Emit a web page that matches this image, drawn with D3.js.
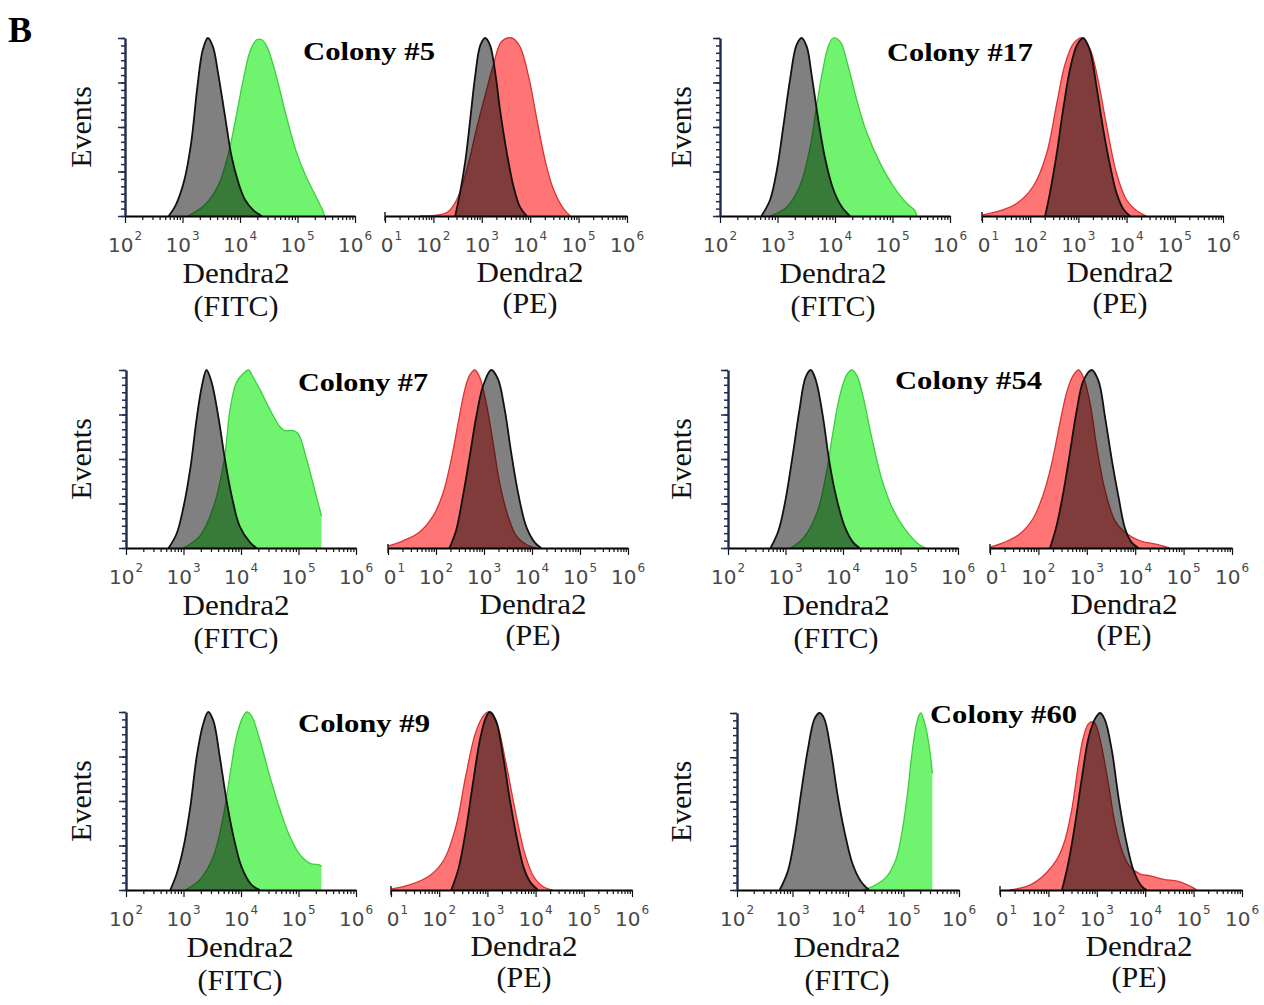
<!DOCTYPE html>
<html><head><meta charset="utf-8">
<script src="https://cdn.jsdelivr.net/npm/d3@7/dist/d3.min.js"></script>
<style>body{margin:0;background:#fff}svg{display:block}</style>
</head><body>
<svg id="chart" width="1264" height="1005"></svg>
<script>
// ---------- DATA (x = log10 fluorescence, y = % of max events) ----------
const colonies = ["Colony #5", "Colony #17", "Colony #7", "Colony #54", "Colony #9", "Colony #60"];
const fitcDecades = [2, 3, 4, 5, 6];
const peDecades = [1, 2, 3, 4, 5, 6];
const xTitle = "Dendra2";
const fitcChannel = "(FITC)";
const peChannel = "(PE)";
const yTitle = "Events";
const panelLetter = "B";

const c5FitcGray  = [[2.76,0],[2.88,6],[3.03,20],[3.15,41],[3.26,73],[3.35,93],[3.44,100],[3.53,95],[3.62,80],[3.74,56],[3.85,34],[3.97,19],[4.09,9],[4.24,3],[4.38,0]];
const c5FitcGreen = [[3.09,0],[3.38,6],[3.62,17],[3.79,34],[3.91,52],[4.06,77],[4.18,93],[4.29,99],[4.38,99],[4.47,95],[4.62,80],[4.79,58],[4.97,37],[5.15,22],[5.32,11],[5.44,3],[5.47,0]];
const c5PeGray    = [[2.45,0],[2.55,13],[2.66,31],[2.76,54],[2.86,78],[2.97,96],[3.07,100],[3.17,96],[3.28,80],[3.38,59],[3.52,35],[3.66,16],[3.79,5],[3.93,0]];
const c5PeRed     = [[1.72,0],[2.28,2],[2.48,9],[2.69,26],[2.9,50],[3.1,71],[3.24,85],[3.41,98],[3.62,100],[3.79,95],[3.97,78],[4.14,54],[4.31,31],[4.48,15],[4.69,4],[4.83,0]];

const c17FitcGray  = [[2.72,0],[2.87,9],[2.99,26],[3.1,50],[3.22,77],[3.33,96],[3.42,100],[3.51,95],[3.59,80],[3.71,54],[3.83,32],[3.97,15],[4.12,5],[4.26,0]];
const c17FitcGreen = [[2.87,0],[3.16,5],[3.39,17],[3.57,39],[3.68,62],[3.8,84],[3.88,95],[3.97,100],[4.09,98],[4.23,84],[4.38,65],[4.55,47],[4.78,30],[5.01,17],[5.25,7],[5.39,3],[5.42,0]];
const c17PeGray    = [[2.31,0],[2.41,13],[2.55,35],[2.69,61],[2.83,83],[2.97,96],[3.1,100],[3.24,93],[3.38,72],[3.52,48],[3.66,28],[3.79,13],[3.93,4],[4.07,0]];
const c17PeRed     = [[1.0,0.5],[1.38,3],[1.72,7],[2.07,17],[2.34,35],[2.55,63],[2.72,85],[2.9,97],[3.07,100],[3.24,94],[3.41,76],[3.59,50],[3.79,24],[4.0,9],[4.21,3],[4.41,0]];

const c7FitcGray  = [[2.74,0],[2.88,8],[3.0,23],[3.12,45],[3.23,73],[3.32,91],[3.4,100],[3.49,93],[3.61,73],[3.72,50],[3.84,29],[3.98,12],[4.16,3],[4.27,0]];
const c7FitcGreen = [[3.0,0],[3.29,7],[3.52,23],[3.71,50],[3.81,78],[3.92,93],[4.04,98],[4.13,100],[4.21,96],[4.33,89],[4.5,78],[4.68,68],[4.76,66],[4.91,66],[5.0,64],[5.14,50],[5.31,29],[5.4,18]];
const c7PeGray    = [[2.28,0],[2.42,10],[2.56,29],[2.7,51],[2.84,74],[2.98,91],[3.15,100],[3.29,95],[3.43,78],[3.57,53],[3.71,31],[3.88,12],[4.06,3],[4.19,0]];
const c7PeRed     = [[1.0,1],[1.31,4],[1.66,9],[1.94,18],[2.15,31],[2.32,50],[2.46,70],[2.6,89],[2.7,97],[2.81,100],[2.91,96],[3.05,81],[3.19,59],[3.33,36],[3.5,18],[3.67,7],[3.88,2],[4.09,0]];

const c54FitcGray  = [[2.74,0],[2.88,10],[3.0,27],[3.12,51],[3.24,77],[3.35,96],[3.44,100],[3.53,94],[3.65,74],[3.76,49],[3.88,29],[4.03,12],[4.18,3],[4.29,0]];
const c54FitcGreen = [[3.09,0],[3.32,6],[3.56,21],[3.71,42],[3.82,64],[3.94,85],[4.06,97],[4.15,100],[4.24,97],[4.35,85],[4.5,62],[4.68,38],[4.88,21],[5.09,10],[5.32,2],[5.44,0]];
const c54PeGray    = [[2.24,0],[2.38,13],[2.52,32],[2.66,55],[2.79,77],[2.93,94],[3.1,100],[3.24,94],[3.38,73],[3.52,49],[3.66,28],[3.79,11],[3.93,3],[4.07,0]];
const c54PeRed     = [[1.0,0.5],[1.28,3],[1.62,8],[1.9,17],[2.1,30],[2.28,48],[2.45,71],[2.59,88],[2.72,97],[2.83,100],[2.93,96],[3.07,81],[3.21,56],[3.38,32],[3.59,15],[3.83,8],[4.1,4],[4.45,2],[4.72,0]];

const c9FitcGray  = [[2.77,0],[2.88,9],[3.0,24],[3.12,47],[3.23,75],[3.34,93],[3.43,100],[3.52,95],[3.63,75],[3.75,50],[3.87,30],[4.01,13],[4.18,3],[4.33,0]];
const c9FitcGreen = [[3.03,0],[3.29,6],[3.52,19],[3.69,41],[3.81,65],[3.92,86],[4.03,97],[4.1,100],[4.18,98],[4.33,84],[4.5,64],[4.68,45],[4.85,30],[5.02,20],[5.2,15],[5.37,14],[5.4,13]];
const c9PeGray    = [[2.25,0],[2.4,12],[2.55,33],[2.7,60],[2.85,85],[2.97,97],[3.05,100],[3.18,95],[3.32,76],[3.47,50],[3.62,28],[3.76,12],[3.9,4],[4.05,0]];
const c9PeRed     = [[1.0,0.5],[1.4,3],[1.8,8],[2.1,17],[2.35,36],[2.55,64],[2.75,88],[2.92,98],[3.03,100],[3.2,93],[3.38,72],[3.56,47],[3.76,22],[3.95,8],[4.15,2],[4.35,0]];

const c60FitcGray  = [[2.77,0],[2.92,11],[3.04,30],[3.16,56],[3.28,80],[3.4,97],[3.49,100],[3.57,97],[3.69,79],[3.81,54],[3.93,34],[4.08,15],[4.23,5],[4.38,0]];
const c60FitcGreen = [[4.26,0],[4.44,2],[4.68,7],[4.86,17],[4.98,34],[5.07,54],[5.16,79],[5.25,96],[5.31,100],[5.4,92],[5.49,75],[5.52,66]];
const c60PeGray    = [[2.28,0],[2.41,15],[2.55,37],[2.69,63],[2.83,86],[2.97,97],[3.07,100],[3.17,96],[3.31,79],[3.45,52],[3.59,30],[3.76,11],[3.93,2],[4.03,0]];
const c60PeRed     = [[1.2,0],[1.55,2],[1.76,5],[1.97,10],[2.17,17],[2.34,28],[2.48,45],[2.62,71],[2.72,86],[2.83,94],[2.93,95],[3.0,92],[3.1,81],[3.24,60],[3.38,37],[3.55,20],[3.69,13],[3.9,9],[4.1,8],[4.38,6],[4.66,5],[4.86,3],[5.07,0]];

// ---------- LAYOUT ----------
const panels = [
  {name: colonies[0], fx0:125, fx1:355, px0:385, px1:627, top:38,  base:216, fLab:236, pLab:530, evX:91,  col:[303,60,132],
   fg:c5FitcGray, fc:c5FitcGreen, pg:c5PeGray, pc:c5PeRed},
  {name: colonies[1], fx0:720, fx1:950, px0:982, px1:1223, top:38, base:216, fLab:833, pLab:1120, evX:691, col:[887,61,146],
   fg:c17FitcGray, fc:c17FitcGreen, pg:c17PeGray, pc:c17PeRed},
  {name: colonies[2], fx0:126, fx1:356, px0:388, px1:628, top:370, base:548, fLab:236, pLab:533, evX:91, col:[298,391,130],
   fg:c7FitcGray, fc:c7FitcGreen, pg:c7PeGray, pc:c7PeRed},
  {name: colonies[3], fx0:728, fx1:958, px0:990, px1:1232, top:370, base:548, fLab:836, pLab:1124, evX:691, col:[895,389,147],
   fg:c54FitcGray, fc:c54FitcGreen, pg:c54PeGray, pc:c54PeRed},
  {name: colonies[4], fx0:126, fx1:356, px0:391, px1:632, top:712, base:890, fLab:240, pLab:524, evX:91, col:[298,732,132],
   fg:c9FitcGray, fc:c9FitcGreen, pg:c9PeGray, pc:c9PeRed},
  {name: colonies[5], fx0:737, fx1:959, px0:1000, px1:1242, top:713, base:890, fLab:847, pLab:1139, evX:691, col:[930,723,147],
   fg:c60FitcGray, fc:c60FitcGreen, pg:c60PeGray, pc:c60PeRed}
];

const SERIF = "'Liberation Serif','Times New Roman',serif";
const SANS = "'DejaVu Sans',Verdana,sans-serif";
const GREEN_FILL = "#70f470", GREEN_LINE = "#3ccf3c";
const RED_FILL = "#ff7575", RED_LINE = "#d83434";
const GRAY_FILL = "#808080";
const TICK_FS = 20, SUP_FS = 12;

const svg = d3.select("#chart");
const defs = svg.append("defs");

svg.append("text").attr("x", 8).attr("y", 42)
  .attr("font-family", SERIF).attr("font-weight", "bold").attr("font-size", 36)
  .text(panelLetter);

function drawHist(g, x, y, base, colorData, colorFill, colorLine, grayData) {
  const curve = d3.curveCatmullRom.alpha(0.5);
  const area = d3.area().x(d => x(Math.pow(10, d[0]))).y0(base).y1(d => y(d[1])).curve(curve);
  const line = d3.line().x(d => x(Math.pow(10, d[0]))).y(d => y(d[1])).curve(curve);
  g.append("path").attr("d", area(colorData)).attr("fill", colorFill);
  g.append("path").attr("d", line(colorData)).attr("fill", "none").attr("stroke", colorLine).attr("stroke-width", 1.3);
  g.append("path").attr("d", area(grayData)).attr("fill", GRAY_FILL).style("mix-blend-mode", "multiply");
  g.append("path").attr("d", line(grayData)).attr("fill", "none").attr("stroke", "#111").attr("stroke-width", 1.8);
}

function drawXAxis(g, x, decades, base, cutFirst) {
  const minor = [], major = [];
  decades.forEach((k, i) => {
    major.push(Math.pow(10, k));
    if (i < decades.length - 1) for (let m = 2; m <= 9; m++) minor.push(m * Math.pow(10, k));
  });
  const ax = g.append("g").attr("transform", `translate(0,${base})`);
  ax.append("g").call(d3.axisBottom(x).tickValues(minor).tickSize(4).tickSizeOuter(0).tickFormat(""))
    .call(s => s.select(".domain").attr("stroke", "#000").attr("stroke-width", 2.2));
  ax.append("g").call(d3.axisBottom(x).tickValues(major).tickSize(7).tickSizeOuter(0).tickFormat(""))
    .call(s => s.select(".domain").remove());
  ax.selectAll(".tick line").attr("stroke", "#111").attr("stroke-width", 1.2);
  const labs = g.append("g");
  const halfW = (2 * 0.636 * TICK_FS + 1 + 0.636 * SUP_FS) / 2;
  decades.forEach((k, i) => {
    const cx = x(Math.pow(10, k));
    const t = labs.append("text").attr("y", base + 36)
      .attr("font-family", SANS).attr("font-size", TICK_FS).attr("fill", "#484848");
    if (cutFirst && i === 0) {
      // left digit of the first PE label is hidden behind the neighbouring panel in the original
      t.attr("x", cx + halfW).attr("text-anchor", "end");
      t.append("tspan").text("0");
    } else {
      t.attr("x", cx).attr("text-anchor", "middle");
      t.append("tspan").text("10");
    }
    t.append("tspan").attr("dy", -12).attr("dx", 1).attr("font-size", SUP_FS).text(k);
  });
}

panels.forEach((p, i) => {
  const g = svg.append("g");
  const y = d3.scaleLinear().domain([0, 100]).range([p.base, p.top]);
  const cid = "clipH" + i;
  defs.append("clipPath").attr("id", cid).append("rect")
    .attr("x", 0).attr("y", p.top - 10).attr("width", 1264).attr("height", p.base - p.top + 10);

  // ---- FITC panel ----
  const xf = d3.scaleLog().domain([1e2, 1e6]).range([p.fx0, p.fx1]);
  drawHist(g.append("g").attr("clip-path", `url(#${cid})`), xf, y, p.base, p.fc, GREEN_FILL, GREEN_LINE, p.fg);
  drawXAxis(g, xf, fitcDecades, p.base, false);
  const yax = g.append("g").attr("transform", `translate(${p.fx0},0)`);
  yax.append("g").call(d3.axisLeft(y).tickValues(d3.range(25).map(j => j * 100 / 24)).tickSize(4).tickSizeOuter(0).tickFormat(""))
    .call(s => s.select(".domain").attr("stroke", "#1d2d4d").attr("stroke-width", 2.4));
  yax.append("g").call(d3.axisLeft(y).tickValues([0, 25, 50, 75, 100]).tickSize(7).tickSizeOuter(0).tickFormat(""))
    .call(s => s.select(".domain").remove());
  yax.selectAll(".tick line").attr("stroke", "#1d2d4d").attr("stroke-width", 1.5);

  g.append("text").attr("transform", `translate(${p.evX},${(p.top + p.base) / 2}) rotate(-90)`)
    .attr("text-anchor", "middle").attr("font-family", SERIF).attr("font-size", 30).attr("fill", "#111").text(yTitle);
  g.append("text").attr("x", p.fLab).attr("y", p.base + 67).attr("text-anchor", "middle")
    .attr("font-family", SERIF).attr("font-size", 30).attr("fill", "#111")
    .attr("textLength", 107).attr("lengthAdjust", "spacingAndGlyphs").text(xTitle);
  g.append("text").attr("x", p.fLab).attr("y", p.base + 100).attr("text-anchor", "middle")
    .attr("font-family", SERIF).attr("font-size", 30).attr("fill", "#111").text(fitcChannel);

  // ---- PE panel ----
  const xp = d3.scaleLog().domain([1e1, 1e6]).range([p.px0, p.px1]);
  drawHist(g.append("g").attr("clip-path", `url(#${cid})`), xp, y, p.base, p.pc, RED_FILL, RED_LINE, p.pg);
  drawXAxis(g, xp, peDecades, p.base, true);
  g.append("line").attr("x1", p.px0).attr("x2", p.px0).attr("y1", p.base - 4).attr("y2", p.base + 5)
    .attr("stroke", "#111").attr("stroke-width", 1.4);
  g.append("text").attr("x", p.pLab).attr("y", p.base + 66).attr("text-anchor", "middle")
    .attr("font-family", SERIF).attr("font-size", 30).attr("fill", "#111")
    .attr("textLength", 107).attr("lengthAdjust", "spacingAndGlyphs").text(xTitle);
  g.append("text").attr("x", p.pLab).attr("y", p.base + 97).attr("text-anchor", "middle")
    .attr("font-family", SERIF).attr("font-size", 30).attr("fill", "#111").text(peChannel);

  // ---- colony title ----
  g.append("text").attr("x", p.col[0]).attr("y", p.col[1])
    .attr("font-family", SERIF).attr("font-weight", "bold").attr("font-size", 25).attr("fill", "#000")
    .attr("textLength", p.col[2]).attr("lengthAdjust", "spacingAndGlyphs").text(p.name);
});
</script>
</body></html>
